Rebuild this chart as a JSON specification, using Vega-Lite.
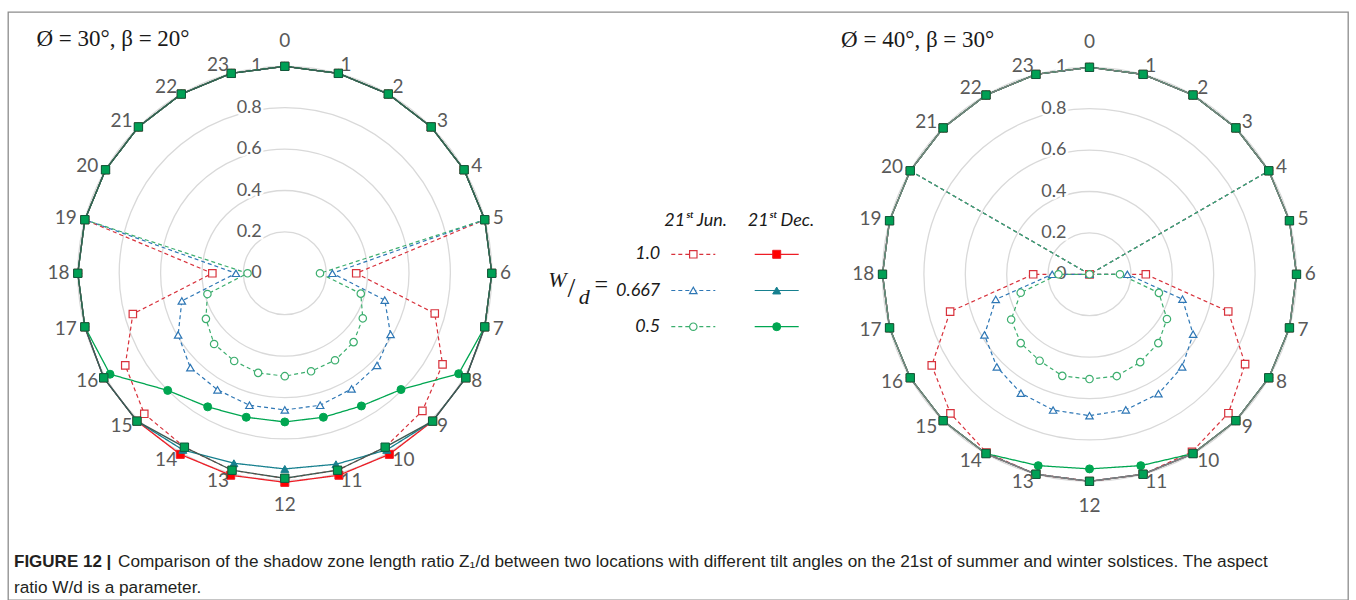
{
  "$schema": "https://vega.github.io/schema/vega-lite/v6.json",
  "width": 1340,
  "height": 588,
  "autosize": "none",
  "padding": {"left": 8, "top": 12, "right": 8, "bottom": 0},
  "background": "white",
  "datasets": {
    "levels": [{"level": 0}, {"level": 0.2}, {"level": 0.4}, {"level": 0.6}, {"level": 0.8}, {"level": 1}],
    "hours": [{"hour": 0}, {"hour": 1}, {"hour": 2}, {"hour": 3}, {"hour": 4}, {"hour": 5}, {"hour": 6}, {"hour": 7}, {"hour": 8}, {"hour": 9}, {"hour": 10}, {"hour": 11}, {"hour": 12}, {"hour": 13}, {"hour": 14}, {"hour": 15}, {"hour": 16}, {"hour": 17}, {"hour": 18}, {"hour": 19}, {"hour": 20}, {"hour": 21}, {"hour": 22}, {"hour": 23}],
    "panels": [
      {"chart": "A", "label": "Ø = 30°, β = 20°"},
      {"chart": "B", "label": "Ø = 40°, β = 30°"}
    ],
    "key": [
      {"series": "Jun 1.0", "date": "21ˢᵗ Jun.", "wd": "1.0"},
      {"series": "Jun 0.667", "date": "21ˢᵗ Jun.", "wd": "0.667"},
      {"series": "Jun 0.5", "date": "21ˢᵗ Jun.", "wd": "0.5"},
      {"series": "Dec 1.0", "date": "21ˢᵗ Dec.", "wd": "1.0"},
      {"series": "Dec 0.667", "date": "21ˢᵗ Dec.", "wd": "0.667"},
      {"series": "Dec 0.5", "date": "21ˢᵗ Dec.", "wd": "0.5"}
    ],
    "caption": [
      {"line": "1", "col": "start", "text": "FIGURE 12 |"},
      {"line": "1", "col": "after", "text": "Comparison of the shadow zone length ratio Z₁/d between two locations with different tilt angles on the 21st of summer and winter solstices. The aspect"},
      {"line": "2", "col": "start", "text": "ratio W/d is a parameter."}
    ],
    "shadow": [
      {"chart":"A","series":"Jun 1.0","hour":0,"z":1},{"chart":"A","series":"Jun 1.0","hour":1,"z":1},{"chart":"A","series":"Jun 1.0","hour":2,"z":1},{"chart":"A","series":"Jun 1.0","hour":3,"z":1},{"chart":"A","series":"Jun 1.0","hour":4,"z":1},{"chart":"A","series":"Jun 1.0","hour":5,"z":1},{"chart":"A","series":"Jun 1.0","hour":6,"z":0.345},{"chart":"A","series":"Jun 1.0","hour":7,"z":0.75},{"chart":"A","series":"Jun 1.0","hour":8,"z":0.88},{"chart":"A","series":"Jun 1.0","hour":9,"z":0.94},{"chart":"A","series":"Jun 1.0","hour":10,"z":0.97},{"chart":"A","series":"Jun 1.0","hour":11,"z":0.985},{"chart":"A","series":"Jun 1.0","hour":12,"z":0.99},{"chart":"A","series":"Jun 1.0","hour":13,"z":0.985},{"chart":"A","series":"Jun 1.0","hour":14,"z":0.97},{"chart":"A","series":"Jun 1.0","hour":15,"z":0.96},{"chart":"A","series":"Jun 1.0","hour":16,"z":0.89},{"chart":"A","series":"Jun 1.0","hour":17,"z":0.76},{"chart":"A","series":"Jun 1.0","hour":18,"z":0.35},{"chart":"A","series":"Jun 1.0","hour":19,"z":1},{"chart":"A","series":"Jun 1.0","hour":20,"z":1},{"chart":"A","series":"Jun 1.0","hour":21,"z":1},{"chart":"A","series":"Jun 1.0","hour":22,"z":1},{"chart":"A","series":"Jun 1.0","hour":23,"z":1},
      {"chart":"A","series":"Jun 0.667","hour":0,"z":1},{"chart":"A","series":"Jun 0.667","hour":1,"z":1},{"chart":"A","series":"Jun 0.667","hour":2,"z":1},{"chart":"A","series":"Jun 0.667","hour":3,"z":1},{"chart":"A","series":"Jun 0.667","hour":4,"z":1},{"chart":"A","series":"Jun 0.667","hour":5,"z":1},{"chart":"A","series":"Jun 0.667","hour":6,"z":0.23},{"chart":"A","series":"Jun 0.667","hour":7,"z":0.5},{"chart":"A","series":"Jun 0.667","hour":8,"z":0.59},{"chart":"A","series":"Jun 0.667","hour":9,"z":0.63},{"chart":"A","series":"Jun 0.667","hour":10,"z":0.645},{"chart":"A","series":"Jun 0.667","hour":11,"z":0.66},{"chart":"A","series":"Jun 0.667","hour":12,"z":0.66},{"chart":"A","series":"Jun 0.667","hour":13,"z":0.66},{"chart":"A","series":"Jun 0.667","hour":14,"z":0.65},{"chart":"A","series":"Jun 0.667","hour":15,"z":0.645},{"chart":"A","series":"Jun 0.667","hour":16,"z":0.595},{"chart":"A","series":"Jun 0.667","hour":17,"z":0.515},{"chart":"A","series":"Jun 0.667","hour":18,"z":0.236},{"chart":"A","series":"Jun 0.667","hour":19,"z":1},{"chart":"A","series":"Jun 0.667","hour":20,"z":1},{"chart":"A","series":"Jun 0.667","hour":21,"z":1},{"chart":"A","series":"Jun 0.667","hour":22,"z":1},{"chart":"A","series":"Jun 0.667","hour":23,"z":1},
      {"chart":"A","series":"Jun 0.5","hour":0,"z":1},{"chart":"A","series":"Jun 0.5","hour":1,"z":1},{"chart":"A","series":"Jun 0.5","hour":2,"z":1},{"chart":"A","series":"Jun 0.5","hour":3,"z":1},{"chart":"A","series":"Jun 0.5","hour":4,"z":1},{"chart":"A","series":"Jun 0.5","hour":5,"z":1},{"chart":"A","series":"Jun 0.5","hour":6,"z":0.17},{"chart":"A","series":"Jun 0.5","hour":7,"z":0.38},{"chart":"A","series":"Jun 0.5","hour":8,"z":0.435},{"chart":"A","series":"Jun 0.5","hour":9,"z":0.47},{"chart":"A","series":"Jun 0.5","hour":10,"z":0.485},{"chart":"A","series":"Jun 0.5","hour":11,"z":0.49},{"chart":"A","series":"Jun 0.5","hour":12,"z":0.497},{"chart":"A","series":"Jun 0.5","hour":13,"z":0.498},{"chart":"A","series":"Jun 0.5","hour":14,"z":0.489},{"chart":"A","series":"Jun 0.5","hour":15,"z":0.483},{"chart":"A","series":"Jun 0.5","hour":16,"z":0.44},{"chart":"A","series":"Jun 0.5","hour":17,"z":0.387},{"chart":"A","series":"Jun 0.5","hour":18,"z":0.18},{"chart":"A","series":"Jun 0.5","hour":19,"z":1},{"chart":"A","series":"Jun 0.5","hour":20,"z":1},{"chart":"A","series":"Jun 0.5","hour":21,"z":1},{"chart":"A","series":"Jun 0.5","hour":22,"z":1},{"chart":"A","series":"Jun 0.5","hour":23,"z":1},
      {"chart":"A","series":"Dec 1.0","hour":0,"z":1},{"chart":"A","series":"Dec 1.0","hour":1,"z":1},{"chart":"A","series":"Dec 1.0","hour":2,"z":1},{"chart":"A","series":"Dec 1.0","hour":3,"z":1},{"chart":"A","series":"Dec 1.0","hour":4,"z":1},{"chart":"A","series":"Dec 1.0","hour":5,"z":1},{"chart":"A","series":"Dec 1.0","hour":6,"z":1},{"chart":"A","series":"Dec 1.0","hour":7,"z":1},{"chart":"A","series":"Dec 1.0","hour":8,"z":1.01},{"chart":"A","series":"Dec 1.0","hour":9,"z":1.01},{"chart":"A","series":"Dec 1.0","hour":10,"z":1.01},{"chart":"A","series":"Dec 1.0","hour":11,"z":1.01},{"chart":"A","series":"Dec 1.0","hour":12,"z":1.01},{"chart":"A","series":"Dec 1.0","hour":13,"z":1.01},{"chart":"A","series":"Dec 1.0","hour":14,"z":1.01},{"chart":"A","series":"Dec 1.0","hour":15,"z":1.01},{"chart":"A","series":"Dec 1.0","hour":16,"z":1.01},{"chart":"A","series":"Dec 1.0","hour":17,"z":1},{"chart":"A","series":"Dec 1.0","hour":18,"z":1},{"chart":"A","series":"Dec 1.0","hour":19,"z":1},{"chart":"A","series":"Dec 1.0","hour":20,"z":1},{"chart":"A","series":"Dec 1.0","hour":21,"z":1},{"chart":"A","series":"Dec 1.0","hour":22,"z":1},{"chart":"A","series":"Dec 1.0","hour":23,"z":1},
      {"chart":"A","series":"Dec 0.667","hour":0,"z":1},{"chart":"A","series":"Dec 0.667","hour":1,"z":1},{"chart":"A","series":"Dec 0.667","hour":2,"z":1},{"chart":"A","series":"Dec 0.667","hour":3,"z":1},{"chart":"A","series":"Dec 0.667","hour":4,"z":1},{"chart":"A","series":"Dec 0.667","hour":5,"z":1},{"chart":"A","series":"Dec 0.667","hour":6,"z":1},{"chart":"A","series":"Dec 0.667","hour":7,"z":1},{"chart":"A","series":"Dec 0.667","hour":8,"z":1.01},{"chart":"A","series":"Dec 0.667","hour":9,"z":1.01},{"chart":"A","series":"Dec 0.667","hour":10,"z":0.985},{"chart":"A","series":"Dec 0.667","hour":11,"z":0.955},{"chart":"A","series":"Dec 0.667","hour":12,"z":0.945},{"chart":"A","series":"Dec 0.667","hour":13,"z":0.95},{"chart":"A","series":"Dec 0.667","hour":14,"z":0.985},{"chart":"A","series":"Dec 0.667","hour":15,"z":1.01},{"chart":"A","series":"Dec 0.667","hour":16,"z":1.01},{"chart":"A","series":"Dec 0.667","hour":17,"z":1},{"chart":"A","series":"Dec 0.667","hour":18,"z":1},{"chart":"A","series":"Dec 0.667","hour":19,"z":1},{"chart":"A","series":"Dec 0.667","hour":20,"z":1},{"chart":"A","series":"Dec 0.667","hour":21,"z":1},{"chart":"A","series":"Dec 0.667","hour":22,"z":1},{"chart":"A","series":"Dec 0.667","hour":23,"z":1},
      {"chart":"A","series":"Dec 0.5","hour":0,"z":1},{"chart":"A","series":"Dec 0.5","hour":1,"z":1},{"chart":"A","series":"Dec 0.5","hour":2,"z":1},{"chart":"A","series":"Dec 0.5","hour":3,"z":1},{"chart":"A","series":"Dec 0.5","hour":4,"z":1},{"chart":"A","series":"Dec 0.5","hour":5,"z":1},{"chart":"A","series":"Dec 0.5","hour":6,"z":1},{"chart":"A","series":"Dec 0.5","hour":7,"z":1},{"chart":"A","series":"Dec 0.5","hour":8,"z":0.97},{"chart":"A","series":"Dec 0.5","hour":9,"z":0.794},{"chart":"A","series":"Dec 0.5","hour":10,"z":0.74},{"chart":"A","series":"Dec 0.5","hour":11,"z":0.72},{"chart":"A","series":"Dec 0.5","hour":12,"z":0.718},{"chart":"A","series":"Dec 0.5","hour":13,"z":0.72},{"chart":"A","series":"Dec 0.5","hour":14,"z":0.745},{"chart":"A","series":"Dec 0.5","hour":15,"z":0.8},{"chart":"A","series":"Dec 0.5","hour":16,"z":0.975},{"chart":"A","series":"Dec 0.5","hour":17,"z":1},{"chart":"A","series":"Dec 0.5","hour":18,"z":1},{"chart":"A","series":"Dec 0.5","hour":19,"z":1},{"chart":"A","series":"Dec 0.5","hour":20,"z":1},{"chart":"A","series":"Dec 0.5","hour":21,"z":1},{"chart":"A","series":"Dec 0.5","hour":22,"z":1},{"chart":"A","series":"Dec 0.5","hour":23,"z":1},
      {"chart":"A","series":"Envelope","hour":0,"z":1},{"chart":"A","series":"Envelope","hour":1,"z":1},{"chart":"A","series":"Envelope","hour":2,"z":1},{"chart":"A","series":"Envelope","hour":3,"z":1},{"chart":"A","series":"Envelope","hour":4,"z":1},{"chart":"A","series":"Envelope","hour":5,"z":1},{"chart":"A","series":"Envelope","hour":6,"z":1},{"chart":"A","series":"Envelope","hour":7,"z":1},{"chart":"A","series":"Envelope","hour":8,"z":1.01},{"chart":"A","series":"Envelope","hour":9,"z":1.01},{"chart":"A","series":"Envelope","hour":10,"z":0.97},{"chart":"A","series":"Envelope","hour":11,"z":0.985},{"chart":"A","series":"Envelope","hour":12,"z":0.99},{"chart":"A","series":"Envelope","hour":13,"z":0.985},{"chart":"A","series":"Envelope","hour":14,"z":0.97},{"chart":"A","series":"Envelope","hour":15,"z":1.01},{"chart":"A","series":"Envelope","hour":16,"z":1.01},{"chart":"A","series":"Envelope","hour":17,"z":1},{"chart":"A","series":"Envelope","hour":18,"z":1},{"chart":"A","series":"Envelope","hour":19,"z":1},{"chart":"A","series":"Envelope","hour":20,"z":1},{"chart":"A","series":"Envelope","hour":21,"z":1},{"chart":"A","series":"Envelope","hour":22,"z":1},{"chart":"A","series":"Envelope","hour":23,"z":1},
      {"chart":"B","series":"Jun 1.0","hour":0,"z":1},{"chart":"B","series":"Jun 1.0","hour":1,"z":1},{"chart":"B","series":"Jun 1.0","hour":2,"z":1},{"chart":"B","series":"Jun 1.0","hour":3,"z":1},{"chart":"B","series":"Jun 1.0","hour":4,"z":1},{"chart":"B","series":"Jun 1.0","hour":5,"z":0},{"chart":"B","series":"Jun 1.0","hour":6,"z":0.272},{"chart":"B","series":"Jun 1.0","hour":7,"z":0.694},{"chart":"B","series":"Jun 1.0","hour":8,"z":0.868},{"chart":"B","series":"Jun 1.0","hour":9,"z":0.949},{"chart":"B","series":"Jun 1.0","hour":10,"z":0.99},{"chart":"B","series":"Jun 1.0","hour":11,"z":1},{"chart":"B","series":"Jun 1.0","hour":12,"z":1},{"chart":"B","series":"Jun 1.0","hour":13,"z":1},{"chart":"B","series":"Jun 1.0","hour":14,"z":0.995},{"chart":"B","series":"Jun 1.0","hour":15,"z":0.95},{"chart":"B","series":"Jun 1.0","hour":16,"z":0.88},{"chart":"B","series":"Jun 1.0","hour":17,"z":0.697},{"chart":"B","series":"Jun 1.0","hour":18,"z":0.272},{"chart":"B","series":"Jun 1.0","hour":19,"z":0},{"chart":"B","series":"Jun 1.0","hour":20,"z":1},{"chart":"B","series":"Jun 1.0","hour":21,"z":1},{"chart":"B","series":"Jun 1.0","hour":22,"z":1},{"chart":"B","series":"Jun 1.0","hour":23,"z":1},
      {"chart":"B","series":"Jun 0.667","hour":0,"z":1},{"chart":"B","series":"Jun 0.667","hour":1,"z":1},{"chart":"B","series":"Jun 0.667","hour":2,"z":1},{"chart":"B","series":"Jun 0.667","hour":3,"z":1},{"chart":"B","series":"Jun 0.667","hour":4,"z":1},{"chart":"B","series":"Jun 0.667","hour":5,"z":0},{"chart":"B","series":"Jun 0.667","hour":6,"z":0.183},{"chart":"B","series":"Jun 0.667","hour":7,"z":0.465},{"chart":"B","series":"Jun 0.667","hour":8,"z":0.578},{"chart":"B","series":"Jun 0.667","hour":9,"z":0.633},{"chart":"B","series":"Jun 0.667","hour":10,"z":0.666},{"chart":"B","series":"Jun 0.667","hour":11,"z":0.678},{"chart":"B","series":"Jun 0.667","hour":12,"z":0.683},{"chart":"B","series":"Jun 0.667","hour":13,"z":0.679},{"chart":"B","series":"Jun 0.667","hour":14,"z":0.663},{"chart":"B","series":"Jun 0.667","hour":15,"z":0.633},{"chart":"B","series":"Jun 0.667","hour":16,"z":0.586},{"chart":"B","series":"Jun 0.667","hour":17,"z":0.469},{"chart":"B","series":"Jun 0.667","hour":18,"z":0.18},{"chart":"B","series":"Jun 0.667","hour":19,"z":0},{"chart":"B","series":"Jun 0.667","hour":20,"z":1},{"chart":"B","series":"Jun 0.667","hour":21,"z":1},{"chart":"B","series":"Jun 0.667","hour":22,"z":1},{"chart":"B","series":"Jun 0.667","hour":23,"z":1},
      {"chart":"B","series":"Jun 0.5","hour":0,"z":1},{"chart":"B","series":"Jun 0.5","hour":1,"z":1},{"chart":"B","series":"Jun 0.5","hour":2,"z":1},{"chart":"B","series":"Jun 0.5","hour":3,"z":1},{"chart":"B","series":"Jun 0.5","hour":4,"z":1},{"chart":"B","series":"Jun 0.5","hour":5,"z":0},{"chart":"B","series":"Jun 0.5","hour":6,"z":0.147},{"chart":"B","series":"Jun 0.5","hour":7,"z":0.347},{"chart":"B","series":"Jun 0.5","hour":8,"z":0.432},{"chart":"B","series":"Jun 0.5","hour":9,"z":0.47},{"chart":"B","series":"Jun 0.5","hour":10,"z":0.49},{"chart":"B","series":"Jun 0.5","hour":11,"z":0.509},{"chart":"B","series":"Jun 0.5","hour":12,"z":0.506},{"chart":"B","series":"Jun 0.5","hour":13,"z":0.508},{"chart":"B","series":"Jun 0.5","hour":14,"z":0.482},{"chart":"B","series":"Jun 0.5","hour":15,"z":0.47},{"chart":"B","series":"Jun 0.5","hour":16,"z":0.437},{"chart":"B","series":"Jun 0.5","hour":17,"z":0.344},{"chart":"B","series":"Jun 0.5","hour":18,"z":0.15},{"chart":"B","series":"Jun 0.5","hour":19,"z":0},{"chart":"B","series":"Jun 0.5","hour":20,"z":1},{"chart":"B","series":"Jun 0.5","hour":21,"z":1},{"chart":"B","series":"Jun 0.5","hour":22,"z":1},{"chart":"B","series":"Jun 0.5","hour":23,"z":1},
      {"chart":"B","series":"Dec 1.0","hour":0,"z":1},{"chart":"B","series":"Dec 1.0","hour":1,"z":1},{"chart":"B","series":"Dec 1.0","hour":2,"z":1},{"chart":"B","series":"Dec 1.0","hour":3,"z":1},{"chart":"B","series":"Dec 1.0","hour":4,"z":1},{"chart":"B","series":"Dec 1.0","hour":5,"z":1},{"chart":"B","series":"Dec 1.0","hour":6,"z":1},{"chart":"B","series":"Dec 1.0","hour":7,"z":1},{"chart":"B","series":"Dec 1.0","hour":8,"z":1},{"chart":"B","series":"Dec 1.0","hour":9,"z":1},{"chart":"B","series":"Dec 1.0","hour":10,"z":1},{"chart":"B","series":"Dec 1.0","hour":11,"z":1},{"chart":"B","series":"Dec 1.0","hour":12,"z":1},{"chart":"B","series":"Dec 1.0","hour":13,"z":1},{"chart":"B","series":"Dec 1.0","hour":14,"z":1},{"chart":"B","series":"Dec 1.0","hour":15,"z":1},{"chart":"B","series":"Dec 1.0","hour":16,"z":1},{"chart":"B","series":"Dec 1.0","hour":17,"z":1},{"chart":"B","series":"Dec 1.0","hour":18,"z":1},{"chart":"B","series":"Dec 1.0","hour":19,"z":1},{"chart":"B","series":"Dec 1.0","hour":20,"z":1},{"chart":"B","series":"Dec 1.0","hour":21,"z":1},{"chart":"B","series":"Dec 1.0","hour":22,"z":1},{"chart":"B","series":"Dec 1.0","hour":23,"z":1},
      {"chart":"B","series":"Dec 0.667","hour":0,"z":1},{"chart":"B","series":"Dec 0.667","hour":1,"z":1},{"chart":"B","series":"Dec 0.667","hour":2,"z":1},{"chart":"B","series":"Dec 0.667","hour":3,"z":1},{"chart":"B","series":"Dec 0.667","hour":4,"z":1},{"chart":"B","series":"Dec 0.667","hour":5,"z":1},{"chart":"B","series":"Dec 0.667","hour":6,"z":1},{"chart":"B","series":"Dec 0.667","hour":7,"z":1},{"chart":"B","series":"Dec 0.667","hour":8,"z":1},{"chart":"B","series":"Dec 0.667","hour":9,"z":1},{"chart":"B","series":"Dec 0.667","hour":10,"z":1},{"chart":"B","series":"Dec 0.667","hour":11,"z":1},{"chart":"B","series":"Dec 0.667","hour":12,"z":1},{"chart":"B","series":"Dec 0.667","hour":13,"z":1},{"chart":"B","series":"Dec 0.667","hour":14,"z":1},{"chart":"B","series":"Dec 0.667","hour":15,"z":1},{"chart":"B","series":"Dec 0.667","hour":16,"z":1},{"chart":"B","series":"Dec 0.667","hour":17,"z":1},{"chart":"B","series":"Dec 0.667","hour":18,"z":1},{"chart":"B","series":"Dec 0.667","hour":19,"z":1},{"chart":"B","series":"Dec 0.667","hour":20,"z":1},{"chart":"B","series":"Dec 0.667","hour":21,"z":1},{"chart":"B","series":"Dec 0.667","hour":22,"z":1},{"chart":"B","series":"Dec 0.667","hour":23,"z":1},
      {"chart":"B","series":"Dec 0.5","hour":0,"z":1},{"chart":"B","series":"Dec 0.5","hour":1,"z":1},{"chart":"B","series":"Dec 0.5","hour":2,"z":1},{"chart":"B","series":"Dec 0.5","hour":3,"z":1},{"chart":"B","series":"Dec 0.5","hour":4,"z":1},{"chart":"B","series":"Dec 0.5","hour":5,"z":1},{"chart":"B","series":"Dec 0.5","hour":6,"z":1},{"chart":"B","series":"Dec 0.5","hour":7,"z":1},{"chart":"B","series":"Dec 0.5","hour":8,"z":1},{"chart":"B","series":"Dec 0.5","hour":9,"z":1},{"chart":"B","series":"Dec 0.5","hour":10,"z":1},{"chart":"B","series":"Dec 0.5","hour":11,"z":0.957},{"chart":"B","series":"Dec 0.5","hour":12,"z":0.94},{"chart":"B","series":"Dec 0.5","hour":13,"z":0.957},{"chart":"B","series":"Dec 0.5","hour":14,"z":1},{"chart":"B","series":"Dec 0.5","hour":15,"z":1},{"chart":"B","series":"Dec 0.5","hour":16,"z":1},{"chart":"B","series":"Dec 0.5","hour":17,"z":1},{"chart":"B","series":"Dec 0.5","hour":18,"z":1},{"chart":"B","series":"Dec 0.5","hour":19,"z":1},{"chart":"B","series":"Dec 0.5","hour":20,"z":1},{"chart":"B","series":"Dec 0.5","hour":21,"z":1},{"chart":"B","series":"Dec 0.5","hour":22,"z":1},{"chart":"B","series":"Dec 0.5","hour":23,"z":1},
      {"chart":"B","series":"Envelope","hour":0,"z":1},{"chart":"B","series":"Envelope","hour":1,"z":1},{"chart":"B","series":"Envelope","hour":2,"z":1},{"chart":"B","series":"Envelope","hour":3,"z":1},{"chart":"B","series":"Envelope","hour":4,"z":1},{"chart":"B","series":"Envelope","hour":5,"z":1},{"chart":"B","series":"Envelope","hour":6,"z":1},{"chart":"B","series":"Envelope","hour":7,"z":1},{"chart":"B","series":"Envelope","hour":8,"z":1},{"chart":"B","series":"Envelope","hour":9,"z":1},{"chart":"B","series":"Envelope","hour":10,"z":1},{"chart":"B","series":"Envelope","hour":11,"z":1},{"chart":"B","series":"Envelope","hour":12,"z":1},{"chart":"B","series":"Envelope","hour":13,"z":1},{"chart":"B","series":"Envelope","hour":14,"z":1},{"chart":"B","series":"Envelope","hour":15,"z":1},{"chart":"B","series":"Envelope","hour":16,"z":1},{"chart":"B","series":"Envelope","hour":17,"z":1},{"chart":"B","series":"Envelope","hour":18,"z":1},{"chart":"B","series":"Envelope","hour":19,"z":1},{"chart":"B","series":"Envelope","hour":20,"z":1},{"chart":"B","series":"Envelope","hour":21,"z":1},{"chart":"B","series":"Envelope","hour":22,"z":1},{"chart":"B","series":"Envelope","hour":23,"z":1}
    ]
  },
  "resolve": {"scale": {"x": "independent", "y": "independent"}},
  "layer": [
    {
      "layer": [
        {
          "data": {"name": "levels"},
          "transform": [{"filter": "datum.level > 0"}],
          "mark": {"type": "point", "filled": false, "stroke": "#d9d9d9", "strokeWidth": 1.3, "opacity": 1},
          "encoding": {
            "x": {"datum": 0, "type": "quantitative", "scale": {"domain": [-1, 1], "range": [69.8, 483.8], "nice": false}},
            "y": {"datum": 0, "type": "quantitative", "scale": {"domain": [-1, 1], "range": [468.3, 54.3], "nice": false}},
            "size": {"field": "level", "type": "quantitative", "scale": {"type": "pow", "exponent": 2, "domain": [0, 1], "range": [0, 171396]}}
          }
        },
        {
          "data": {"name": "levels"},
          "mark": {"type": "text", "align": "right", "baseline": "middle", "dx": -23, "font": "Lato", "fontSize": 18, "fill": "#595959", "stroke": "white", "strokeWidth": 5},
          "encoding": {
            "x": {"datum": 0, "type": "quantitative", "scale": {"domain": [-1, 1], "range": [69.8, 483.8], "nice": false}},
            "y": {"field": "level", "type": "quantitative", "scale": {"domain": [-1, 1], "range": [468.3, 54.3], "nice": false}},
            "text": {"field": "level", "type": "quantitative"}
          }
        },
        {
          "data": {"name": "levels"},
          "mark": {"type": "text", "align": "right", "baseline": "middle", "dx": -23, "font": "Lato", "fontSize": 18, "fill": "#595959"},
          "encoding": {
            "x": {"datum": 0, "type": "quantitative", "scale": {"domain": [-1, 1], "range": [69.8, 483.8], "nice": false}},
            "y": {"field": "level", "type": "quantitative", "scale": {"domain": [-1, 1], "range": [468.3, 54.3], "nice": false}},
            "text": {"field": "level", "type": "quantitative"}
          }
        },
        {
          "data": {"name": "shadow"},
          "transform": [
            {"filter": "datum.chart === 'A'"},
            {"calculate": "datum.z * sin(datum.hour * PI / 12)", "as": "px"},
            {"calculate": "datum.z * cos(datum.hour * PI / 12)", "as": "py"},
            {"calculate": "(datum.hour + 5) % 24", "as": "seq"}
          ],
          "encoding": {
            "x": {"field": "px", "type": "quantitative", "scale": {"domain": [-1, 1], "range": [69.8, 483.8], "nice": false}},
            "y": {"field": "py", "type": "quantitative", "scale": {"domain": [-1, 1], "range": [468.3, 54.3], "nice": false}},
            "order": {"field": "seq", "type": "quantitative"}
          },
          "layer": [
            {
              "transform": [{"filter": {"field": "series", "oneOf": ["Jun 1.0", "Jun 0.667", "Jun 0.5"]}}],
              "mark": {"type": "line", "interpolate": "linear-closed", "strokeWidth": 1.2},
              "encoding": {
                "stroke": {"field": "series", "type": "nominal", "scale": {"domain": ["Jun 1.0", "Jun 0.667", "Jun 0.5", "Dec 1.0", "Dec 0.667", "Dec 0.5"], "range": ["#d8323c", "#2e77b5", "#3cae6e", "#ee1c25", "#17808f", "#00a651"]}},
                "strokeDash": {"field": "series", "type": "nominal", "scale": {"domain": ["Jun 1.0", "Jun 0.667", "Jun 0.5", "Dec 1.0", "Dec 0.667", "Dec 0.5"], "range": [[4, 3], [4, 3], [4, 3], [1, 0], [1, 0], [1, 0]]}}
              }
            },
            {
              "transform": [{"filter": {"field": "series", "oneOf": ["Jun 1.0", "Jun 0.667", "Jun 0.5"]}}],
              "mark": {"type": "point", "filled": true, "opacity": 1, "size": 55, "strokeWidth": 1.2},
              "encoding": {
                "shape": {"field": "series", "type": "nominal", "scale": {"domain": ["Jun 1.0", "Jun 0.667", "Jun 0.5", "Dec 1.0", "Dec 0.667", "Dec 0.5"], "range": ["square", "triangle-up", "circle", "square", "triangle-up", "circle"]}},
                "stroke": {"field": "series", "type": "nominal", "scale": {"domain": ["Jun 1.0", "Jun 0.667", "Jun 0.5", "Dec 1.0", "Dec 0.667", "Dec 0.5"], "range": ["#d8323c", "#2e77b5", "#3cae6e", "#ee1c25", "#17808f", "#00a651"]}},
                "fill": {"field": "series", "type": "nominal", "scale": {"domain": ["Jun 1.0", "Jun 0.667", "Jun 0.5", "Dec 1.0", "Dec 0.667", "Dec 0.5"], "range": ["#ffffff", "#ffffff", "#ffffff", "#ff0000", "#17808f", "#00a651"]}}
              }
            },
            {
              "transform": [{"filter": {"field": "series", "oneOf": ["Dec 1.0", "Dec 0.667", "Dec 0.5"]}}],
              "mark": {"type": "line", "interpolate": "linear-closed", "strokeWidth": 1.3},
              "encoding": {
                "stroke": {"field": "series", "type": "nominal", "scale": {"domain": ["Jun 1.0", "Jun 0.667", "Jun 0.5", "Dec 1.0", "Dec 0.667", "Dec 0.5"], "range": ["#d8323c", "#2e77b5", "#3cae6e", "#ee1c25", "#17808f", "#00a651"]}},
                "strokeDash": {"field": "series", "type": "nominal", "scale": {"domain": ["Jun 1.0", "Jun 0.667", "Jun 0.5", "Dec 1.0", "Dec 0.667", "Dec 0.5"], "range": [[4, 3], [4, 3], [4, 3], [1, 0], [1, 0], [1, 0]]}}
              }
            },
            {
              "transform": [{"filter": {"field": "series", "oneOf": ["Dec 1.0", "Dec 0.667", "Dec 0.5"]}}],
              "mark": {"type": "point", "filled": true, "opacity": 1, "size": 64, "strokeWidth": 1},
              "encoding": {
                "shape": {"field": "series", "type": "nominal", "scale": {"domain": ["Jun 1.0", "Jun 0.667", "Jun 0.5", "Dec 1.0", "Dec 0.667", "Dec 0.5"], "range": ["square", "triangle-up", "circle", "square", "triangle-up", "circle"]}},
                "stroke": {"field": "series", "type": "nominal", "scale": {"domain": ["Jun 1.0", "Jun 0.667", "Jun 0.5", "Dec 1.0", "Dec 0.667", "Dec 0.5"], "range": ["#d8323c", "#2e77b5", "#3cae6e", "#ee1c25", "#17808f", "#00a651"]}},
                "fill": {"field": "series", "type": "nominal", "scale": {"domain": ["Jun 1.0", "Jun 0.667", "Jun 0.5", "Dec 1.0", "Dec 0.667", "Dec 0.5"], "range": ["#ffffff", "#ffffff", "#ffffff", "#ff0000", "#17808f", "#00a651"]}}
              }
            },
            {
              "transform": [{"filter": "datum.series === 'Envelope'"}],
              "mark": {"type": "line", "interpolate": "linear-closed", "stroke": "#3e5a52", "strokeWidth": 1.3}
            },
            {
              "transform": [{"filter": "datum.series === 'Envelope'"}],
              "mark": {"type": "point", "shape": "square", "filled": true, "fill": "#00a055", "stroke": "#0f5a3c", "strokeWidth": 1, "size": 70, "opacity": 1}
            }
          ]
        },
        {
          "data": {"name": "hours"},
          "transform": [
            {"filter": "datum.hour > 0 && datum.hour < 12"},
            {"calculate": "1.04 * sin(datum.hour * PI / 12)", "as": "lx"},
            {"calculate": "1.04 * cos(datum.hour * PI / 12)", "as": "ly"}
          ],
          "mark": {"type": "text", "align": "left", "baseline": "middle", "font": "Lato", "fontSize": 19, "fill": "#595959"},
          "encoding": {
            "x": {"field": "lx", "type": "quantitative", "scale": {"domain": [-1, 1], "range": [69.8, 483.8], "nice": false}},
            "y": {"field": "ly", "type": "quantitative", "scale": {"domain": [-1, 1], "range": [468.3, 54.3], "nice": false}},
            "text": {"field": "hour", "type": "nominal"}
          }
        },
        {
          "data": {"name": "hours"},
          "transform": [
            {"filter": "datum.hour > 12"},
            {"calculate": "1.04 * sin(datum.hour * PI / 12)", "as": "lx"},
            {"calculate": "1.04 * cos(datum.hour * PI / 12)", "as": "ly"}
          ],
          "mark": {"type": "text", "align": "right", "baseline": "middle", "font": "Lato", "fontSize": 19, "fill": "#595959"},
          "encoding": {
            "x": {"field": "lx", "type": "quantitative", "scale": {"domain": [-1, 1], "range": [69.8, 483.8], "nice": false}},
            "y": {"field": "ly", "type": "quantitative", "scale": {"domain": [-1, 1], "range": [468.3, 54.3], "nice": false}},
            "text": {"field": "hour", "type": "nominal"}
          }
        },
        {
          "data": {"name": "hours"},
          "transform": [
            {"filter": "datum.hour === 0 || datum.hour === 12"},
            {"calculate": "1.12 * sin(datum.hour * PI / 12)", "as": "lx"},
            {"calculate": "1.12 * cos(datum.hour * PI / 12)", "as": "ly"}
          ],
          "mark": {"type": "text", "align": "center", "baseline": "middle", "font": "Lato", "fontSize": 19, "fill": "#595959"},
          "encoding": {
            "x": {"field": "lx", "type": "quantitative", "scale": {"domain": [-1, 1], "range": [69.8, 483.8], "nice": false}},
            "y": {"field": "ly", "type": "quantitative", "scale": {"domain": [-1, 1], "range": [468.3, 54.3], "nice": false}},
            "text": {"field": "hour", "type": "nominal"}
          }
        },
        {
          "data": {"name": "panels"},
          "transform": [{"filter": "datum.chart === 'A'"}],
          "mark": {"type": "text", "align": "left", "baseline": "middle", "font": "Liberation Serif", "fontSize": 23, "fill": "#1a1a1a"},
          "encoding": {
            "x": {"datum": -1.2, "type": "quantitative", "scale": {"domain": [-1, 1], "range": [69.8, 483.8], "nice": false}},
            "y": {"datum": 1.13, "type": "quantitative", "scale": {"domain": [-1, 1], "range": [468.3, 54.3], "nice": false}},
            "text": {"field": "label", "type": "nominal"}
          }
        }
      ]
    },
    {
      "layer": [
        {
          "data": {"name": "levels"},
          "transform": [{"filter": "datum.level > 0"}],
          "mark": {"type": "point", "filled": false, "stroke": "#d9d9d9", "strokeWidth": 1.3, "opacity": 1},
          "encoding": {
            "x": {"datum": 0, "type": "quantitative", "scale": {"domain": [-1, 1], "range": [874.5, 1288.5], "nice": false}},
            "y": {"datum": 0, "type": "quantitative", "scale": {"domain": [-1, 1], "range": [469.3, 55.3], "nice": false}},
            "size": {"field": "level", "type": "quantitative", "scale": {"type": "pow", "exponent": 2, "domain": [0, 1], "range": [0, 171396]}}
          }
        },
        {
          "data": {"name": "levels"},
          "mark": {"type": "text", "align": "right", "baseline": "middle", "dx": -23, "font": "Lato", "fontSize": 18, "fill": "#595959", "stroke": "white", "strokeWidth": 5},
          "encoding": {
            "x": {"datum": 0, "type": "quantitative", "scale": {"domain": [-1, 1], "range": [874.5, 1288.5], "nice": false}},
            "y": {"field": "level", "type": "quantitative", "scale": {"domain": [-1, 1], "range": [469.3, 55.3], "nice": false}},
            "text": {"field": "level", "type": "quantitative"}
          }
        },
        {
          "data": {"name": "levels"},
          "mark": {"type": "text", "align": "right", "baseline": "middle", "dx": -23, "font": "Lato", "fontSize": 18, "fill": "#595959"},
          "encoding": {
            "x": {"datum": 0, "type": "quantitative", "scale": {"domain": [-1, 1], "range": [874.5, 1288.5], "nice": false}},
            "y": {"field": "level", "type": "quantitative", "scale": {"domain": [-1, 1], "range": [469.3, 55.3], "nice": false}},
            "text": {"field": "level", "type": "quantitative"}
          }
        },
        {
          "data": {"name": "shadow"},
          "transform": [
            {"filter": "datum.chart === 'B'"},
            {"calculate": "datum.z * sin(datum.hour * PI / 12)", "as": "px"},
            {"calculate": "datum.z * cos(datum.hour * PI / 12)", "as": "py"},
            {"calculate": "(datum.hour + 5) % 24", "as": "seq"}
          ],
          "encoding": {
            "x": {"field": "px", "type": "quantitative", "scale": {"domain": [-1, 1], "range": [874.5, 1288.5], "nice": false}},
            "y": {"field": "py", "type": "quantitative", "scale": {"domain": [-1, 1], "range": [469.3, 55.3], "nice": false}},
            "order": {"field": "seq", "type": "quantitative"}
          },
          "layer": [
            {
              "transform": [{"filter": {"field": "series", "oneOf": ["Jun 1.0", "Jun 0.667", "Jun 0.5"]}}],
              "mark": {"type": "line", "interpolate": "linear-closed", "strokeWidth": 1.2},
              "encoding": {
                "stroke": {"field": "series", "type": "nominal", "scale": {"domain": ["Jun 1.0", "Jun 0.667", "Jun 0.5", "Dec 1.0", "Dec 0.667", "Dec 0.5"], "range": ["#d8323c", "#2e77b5", "#3cae6e", "#ee1c25", "#17808f", "#00a651"]}},
                "strokeDash": {"field": "series", "type": "nominal", "scale": {"domain": ["Jun 1.0", "Jun 0.667", "Jun 0.5", "Dec 1.0", "Dec 0.667", "Dec 0.5"], "range": [[4, 3], [4, 3], [4, 3], [1, 0], [1, 0], [1, 0]]}}
              }
            },
            {
              "transform": [{"filter": {"field": "series", "oneOf": ["Jun 1.0", "Jun 0.667", "Jun 0.5"]}}],
              "mark": {"type": "point", "filled": true, "opacity": 1, "size": 55, "strokeWidth": 1.2},
              "encoding": {
                "shape": {"field": "series", "type": "nominal", "scale": {"domain": ["Jun 1.0", "Jun 0.667", "Jun 0.5", "Dec 1.0", "Dec 0.667", "Dec 0.5"], "range": ["square", "triangle-up", "circle", "square", "triangle-up", "circle"]}},
                "stroke": {"field": "series", "type": "nominal", "scale": {"domain": ["Jun 1.0", "Jun 0.667", "Jun 0.5", "Dec 1.0", "Dec 0.667", "Dec 0.5"], "range": ["#d8323c", "#2e77b5", "#3cae6e", "#ee1c25", "#17808f", "#00a651"]}},
                "fill": {"field": "series", "type": "nominal", "scale": {"domain": ["Jun 1.0", "Jun 0.667", "Jun 0.5", "Dec 1.0", "Dec 0.667", "Dec 0.5"], "range": ["#ffffff", "#ffffff", "#ffffff", "#ff0000", "#17808f", "#00a651"]}}
              }
            },
            {
              "transform": [{"filter": {"field": "series", "oneOf": ["Dec 1.0", "Dec 0.667", "Dec 0.5"]}}],
              "mark": {"type": "line", "interpolate": "linear-closed", "strokeWidth": 1.3},
              "encoding": {
                "stroke": {"field": "series", "type": "nominal", "scale": {"domain": ["Jun 1.0", "Jun 0.667", "Jun 0.5", "Dec 1.0", "Dec 0.667", "Dec 0.5"], "range": ["#d8323c", "#2e77b5", "#3cae6e", "#ee1c25", "#17808f", "#00a651"]}},
                "strokeDash": {"field": "series", "type": "nominal", "scale": {"domain": ["Jun 1.0", "Jun 0.667", "Jun 0.5", "Dec 1.0", "Dec 0.667", "Dec 0.5"], "range": [[4, 3], [4, 3], [4, 3], [1, 0], [1, 0], [1, 0]]}}
              }
            },
            {
              "transform": [{"filter": {"field": "series", "oneOf": ["Dec 1.0", "Dec 0.667", "Dec 0.5"]}}],
              "mark": {"type": "point", "filled": true, "opacity": 1, "size": 64, "strokeWidth": 1},
              "encoding": {
                "shape": {"field": "series", "type": "nominal", "scale": {"domain": ["Jun 1.0", "Jun 0.667", "Jun 0.5", "Dec 1.0", "Dec 0.667", "Dec 0.5"], "range": ["square", "triangle-up", "circle", "square", "triangle-up", "circle"]}},
                "stroke": {"field": "series", "type": "nominal", "scale": {"domain": ["Jun 1.0", "Jun 0.667", "Jun 0.5", "Dec 1.0", "Dec 0.667", "Dec 0.5"], "range": ["#d8323c", "#2e77b5", "#3cae6e", "#ee1c25", "#17808f", "#00a651"]}},
                "fill": {"field": "series", "type": "nominal", "scale": {"domain": ["Jun 1.0", "Jun 0.667", "Jun 0.5", "Dec 1.0", "Dec 0.667", "Dec 0.5"], "range": ["#ffffff", "#ffffff", "#ffffff", "#ff0000", "#17808f", "#00a651"]}}
              }
            },
            {
              "transform": [{"filter": "datum.series === 'Envelope'"}],
              "mark": {"type": "line", "interpolate": "linear-closed", "stroke": "#808080", "strokeWidth": 1.3}
            },
            {
              "transform": [{"filter": "datum.series === 'Envelope'"}],
              "mark": {"type": "point", "shape": "square", "filled": true, "fill": "#00a055", "stroke": "#0f5a3c", "strokeWidth": 1, "size": 70, "opacity": 1}
            }
          ]
        },
        {
          "data": {"name": "hours"},
          "transform": [
            {"filter": "datum.hour > 0 && datum.hour < 12"},
            {"calculate": "1.04 * sin(datum.hour * PI / 12)", "as": "lx"},
            {"calculate": "1.04 * cos(datum.hour * PI / 12)", "as": "ly"}
          ],
          "mark": {"type": "text", "align": "left", "baseline": "middle", "font": "Lato", "fontSize": 19, "fill": "#595959"},
          "encoding": {
            "x": {"field": "lx", "type": "quantitative", "scale": {"domain": [-1, 1], "range": [874.5, 1288.5], "nice": false}},
            "y": {"field": "ly", "type": "quantitative", "scale": {"domain": [-1, 1], "range": [469.3, 55.3], "nice": false}},
            "text": {"field": "hour", "type": "nominal"}
          }
        },
        {
          "data": {"name": "hours"},
          "transform": [
            {"filter": "datum.hour > 12"},
            {"calculate": "1.04 * sin(datum.hour * PI / 12)", "as": "lx"},
            {"calculate": "1.04 * cos(datum.hour * PI / 12)", "as": "ly"}
          ],
          "mark": {"type": "text", "align": "right", "baseline": "middle", "font": "Lato", "fontSize": 19, "fill": "#595959"},
          "encoding": {
            "x": {"field": "lx", "type": "quantitative", "scale": {"domain": [-1, 1], "range": [874.5, 1288.5], "nice": false}},
            "y": {"field": "ly", "type": "quantitative", "scale": {"domain": [-1, 1], "range": [469.3, 55.3], "nice": false}},
            "text": {"field": "hour", "type": "nominal"}
          }
        },
        {
          "data": {"name": "hours"},
          "transform": [
            {"filter": "datum.hour === 0 || datum.hour === 12"},
            {"calculate": "1.12 * sin(datum.hour * PI / 12)", "as": "lx"},
            {"calculate": "1.12 * cos(datum.hour * PI / 12)", "as": "ly"}
          ],
          "mark": {"type": "text", "align": "center", "baseline": "middle", "font": "Lato", "fontSize": 19, "fill": "#595959"},
          "encoding": {
            "x": {"field": "lx", "type": "quantitative", "scale": {"domain": [-1, 1], "range": [874.5, 1288.5], "nice": false}},
            "y": {"field": "ly", "type": "quantitative", "scale": {"domain": [-1, 1], "range": [469.3, 55.3], "nice": false}},
            "text": {"field": "hour", "type": "nominal"}
          }
        },
        {
          "data": {"name": "panels"},
          "transform": [{"filter": "datum.chart === 'B'"}],
          "mark": {"type": "text", "align": "left", "baseline": "middle", "font": "Liberation Serif", "fontSize": 23, "fill": "#1a1a1a"},
          "encoding": {
            "x": {"datum": -1.2, "type": "quantitative", "scale": {"domain": [-1, 1], "range": [874.5, 1288.5], "nice": false}},
            "y": {"datum": 1.13, "type": "quantitative", "scale": {"domain": [-1, 1], "range": [469.3, 55.3], "nice": false}},
            "text": {"field": "label", "type": "nominal"}
          }
        }
      ]
    },
    {
      "data": {"name": "key"},
      "encoding": {
        "x": {"field": "date", "type": "nominal", "scale": {"type": "point", "domain": ["21ˢᵗ Jun.", "21ˢᵗ Dec."], "range": [685.3, 768.7], "padding": 0}},
        "y": {"field": "wd", "type": "nominal", "scale": {"type": "point", "domain": ["1.0", "0.667", "0.5"], "range": [242.3, 314.7], "padding": 0}}
      },
      "layer": [
        {
          "mark": {"type": "rule", "xOffset": -22, "x2Offset": 22, "strokeWidth": 1.2},
          "encoding": {
            "x2": {"field": "date"},
            "stroke": {"field": "series", "type": "nominal", "scale": {"domain": ["Jun 1.0", "Jun 0.667", "Jun 0.5", "Dec 1.0", "Dec 0.667", "Dec 0.5"], "range": ["#d8323c", "#2e77b5", "#3cae6e", "#ee1c25", "#17808f", "#00a651"]}},
            "strokeDash": {"field": "series", "type": "nominal", "scale": {"domain": ["Jun 1.0", "Jun 0.667", "Jun 0.5", "Dec 1.0", "Dec 0.667", "Dec 0.5"], "range": [[4, 3], [4, 3], [4, 3], [1, 0], [1, 0], [1, 0]]}}
          }
        },
        {
          "transform": [{"filter": {"field": "series", "oneOf": ["Jun 1.0", "Jun 0.667", "Jun 0.5"]}}],
          "mark": {"type": "point", "filled": true, "opacity": 1, "size": 55, "strokeWidth": 1.2},
          "encoding": {
            "shape": {"field": "series", "type": "nominal", "scale": {"domain": ["Jun 1.0", "Jun 0.667", "Jun 0.5", "Dec 1.0", "Dec 0.667", "Dec 0.5"], "range": ["square", "triangle-up", "circle", "square", "triangle-up", "circle"]}},
            "stroke": {"field": "series", "type": "nominal", "scale": {"domain": ["Jun 1.0", "Jun 0.667", "Jun 0.5", "Dec 1.0", "Dec 0.667", "Dec 0.5"], "range": ["#d8323c", "#2e77b5", "#3cae6e", "#ee1c25", "#17808f", "#00a651"]}},
            "fill": {"field": "series", "type": "nominal", "scale": {"domain": ["Jun 1.0", "Jun 0.667", "Jun 0.5", "Dec 1.0", "Dec 0.667", "Dec 0.5"], "range": ["#ffffff", "#ffffff", "#ffffff", "#ff0000", "#17808f", "#00a651"]}}
          }
        },
        {
          "transform": [{"filter": {"field": "series", "oneOf": ["Dec 1.0", "Dec 0.667", "Dec 0.5"]}}],
          "mark": {"type": "point", "filled": true, "opacity": 1, "size": 64, "strokeWidth": 1},
          "encoding": {
            "shape": {"field": "series", "type": "nominal", "scale": {"domain": ["Jun 1.0", "Jun 0.667", "Jun 0.5", "Dec 1.0", "Dec 0.667", "Dec 0.5"], "range": ["square", "triangle-up", "circle", "square", "triangle-up", "circle"]}},
            "stroke": {"field": "series", "type": "nominal", "scale": {"domain": ["Jun 1.0", "Jun 0.667", "Jun 0.5", "Dec 1.0", "Dec 0.667", "Dec 0.5"], "range": ["#d8323c", "#2e77b5", "#3cae6e", "#ee1c25", "#17808f", "#00a651"]}},
            "fill": {"field": "series", "type": "nominal", "scale": {"domain": ["Jun 1.0", "Jun 0.667", "Jun 0.5", "Dec 1.0", "Dec 0.667", "Dec 0.5"], "range": ["#ffffff", "#ffffff", "#ffffff", "#ff0000", "#17808f", "#00a651"]}}
          }
        },
        {
          "transform": [{"filter": {"field": "date", "equal": "21ˢᵗ Jun."}}],
          "mark": {"type": "text", "align": "right", "baseline": "middle", "dx": -33, "font": "Lato", "fontStyle": "italic", "fontSize": 18, "fill": "#1a1a1a"},
          "encoding": {"text": {"field": "wd", "type": "nominal"}}
        },
        {
          "transform": [{"filter": {"field": "wd", "equal": "1.0"}}],
          "mark": {"type": "text", "align": "left", "baseline": "middle", "dx": -29, "dy": -33, "font": "Lato", "fontStyle": "italic", "fontSize": 18, "fill": "#1a1a1a"},
          "encoding": {"text": {"field": "date", "type": "nominal"}}
        },
        {
          "transform": [{"filter": "datum.series === 'Jun 0.667'"}],
          "mark": {"type": "text", "align": "center", "baseline": "middle", "dx": -136, "dy": -11, "font": "Liberation Serif", "fontStyle": "italic", "fontSize": 22, "fill": "#1a1a1a", "text": "W"}
        },
        {
          "transform": [{"filter": "datum.series === 'Jun 0.667'"}],
          "mark": {"type": "text", "align": "center", "baseline": "middle", "dx": -122, "dy": -2, "font": "Liberation Serif", "fontSize": 28, "fill": "#1a1a1a", "text": "/"}
        },
        {
          "transform": [{"filter": "datum.series === 'Jun 0.667'"}],
          "mark": {"type": "text", "align": "center", "baseline": "middle", "dx": -109, "dy": 6, "font": "Liberation Serif", "fontStyle": "italic", "fontSize": 22, "fill": "#1a1a1a", "text": "d"}
        },
        {
          "transform": [{"filter": "datum.series === 'Jun 0.667'"}],
          "mark": {"type": "text", "align": "center", "baseline": "middle", "dx": -92, "dy": -6, "font": "Liberation Serif", "fontSize": 24, "fill": "#1a1a1a", "text": "="}
        }
      ]
    },
    {
      "data": {"name": "caption"},
      "encoding": {
        "x": {"field": "col", "type": "nominal", "scale": {"type": "point", "domain": ["start", "after"], "range": [6, 110], "padding": 0}},
        "y": {"field": "line", "type": "nominal", "scale": {"type": "point", "domain": ["1", "2"], "range": [550, 576], "padding": 0}},
        "text": {"field": "text", "type": "nominal"}
      },
      "layer": [
        {
          "transform": [{"filter": "datum.col === 'start' && datum.line === '1'"}],
          "mark": {"type": "text", "align": "left", "baseline": "middle", "font": "Liberation Sans", "fontSize": 17, "fontWeight": "bold", "fill": "#231f20"}
        },
        {
          "transform": [{"filter": "!(datum.col === 'start' && datum.line === '1')"}],
          "mark": {"type": "text", "align": "left", "baseline": "middle", "font": "Liberation Sans", "fontSize": 17.2, "fill": "#231f20"}
        }
      ]
    }
  ],
  "config": {
    "view": {"stroke": "#8c8c8c", "strokeWidth": 1.3},
    "axis": {"disable": true},
    "legend": {"disable": true}
  }
}
